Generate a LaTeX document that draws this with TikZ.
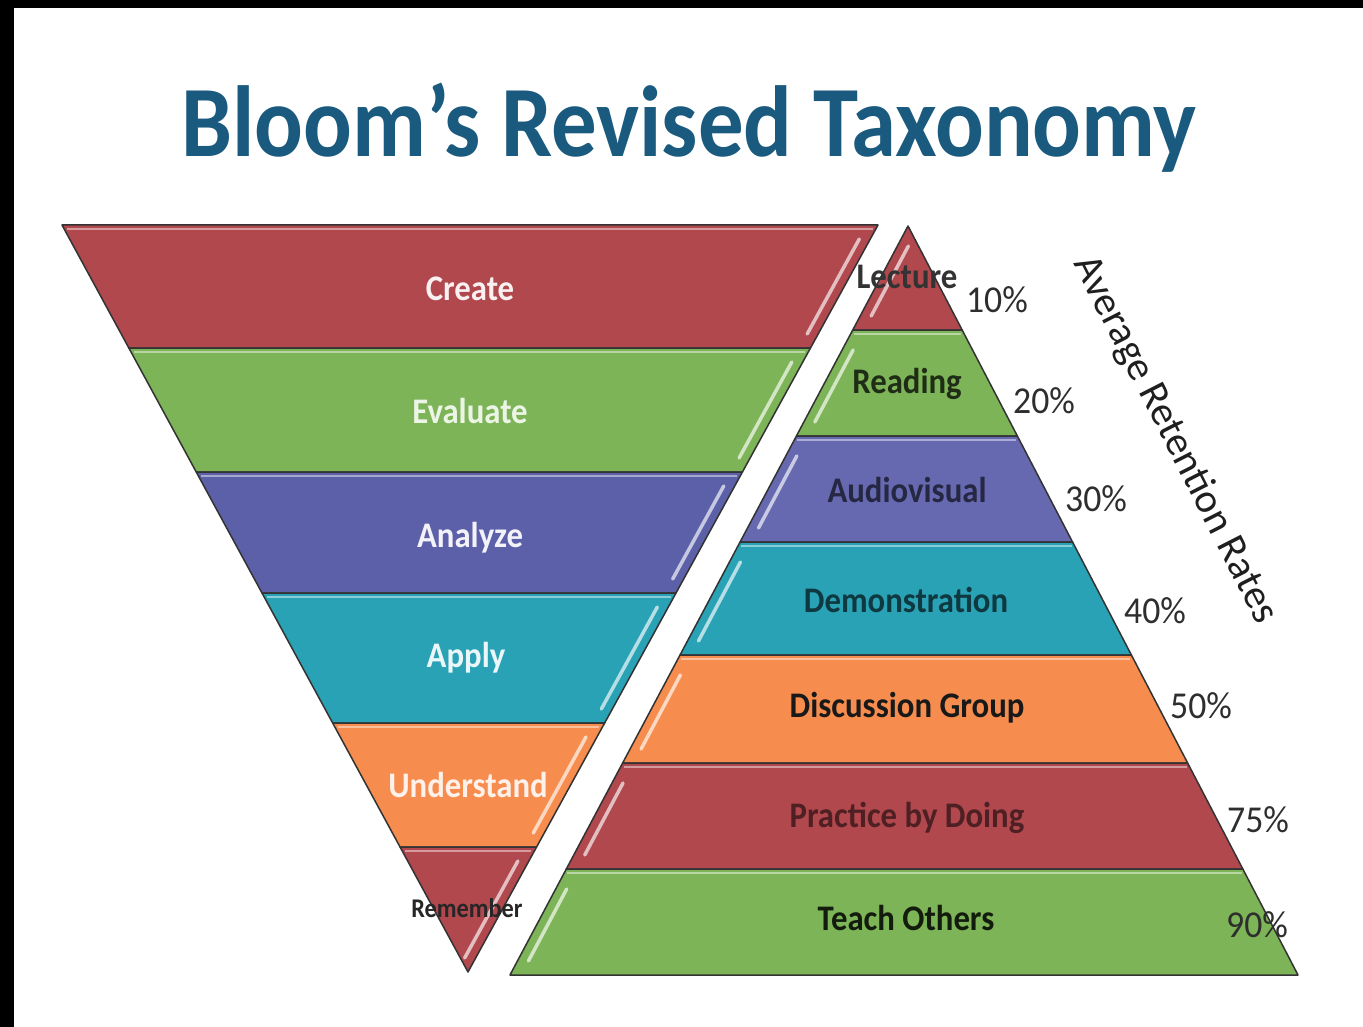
\documentclass[tikz,border=0pt]{standalone}
\usepackage{fontspec}
\setmainfont{Carlito}
\definecolor{bred}{HTML}{B0484E}
\definecolor{bgreen}{HTML}{7DB457}
\definecolor{bpurple}{HTML}{5C60A8}
\definecolor{bpurpleb}{HTML}{6669AF}
\definecolor{bteal}{HTML}{2AA2B6}
\definecolor{borange}{HTML}{F68D4E}
\definecolor{titleblue}{HTML}{1A5A7E}
\definecolor{edgec}{HTML}{333333}
\definecolor{pctgray}{HTML}{2E2E2E}
\newcommand\fs[1]{\fontsize{#1}{#1}\selectfont}
\newcommand\sq[1]{\scalebox{0.91}[1]{#1}}
\begin{document}
\begin{tikzpicture}[x=1pt,y=-1pt,
  band/.style={draw=edgec, line width=1.5pt, line join=round},
  shine/.style={line width=3.5pt, line cap=round},
  titletext/.style={anchor=base, text=titleblue, font=\fs{101}\bfseries, inner sep=0pt},
  lefttext/.style={anchor=base, font=\fs{36}\bfseries, inner sep=0pt},
  righttext/.style={anchor=base, font=\fs{36}\bfseries, inner sep=0pt},
  pcttext/.style={anchor=base, font=\fs{38}, text=pctgray, inner sep=0pt}]
\useasboundingbox (0,0) rectangle (1363,1027);
\fill[white] (0,0) rectangle (1363,1027);
\fill[black] (0,0) rectangle (14,1027);
\fill[black] (0,0) rectangle (1363,8);

% title
\node[titletext] (title) at (689,157) {\scalebox{0.9}[1]{Bloom's Revised Taxonomy}};

% left inverted triangle
\foreach \ya/\yb/\c in {225/348/bred, 348/472/bgreen, 472/593/bpurple, 593/723/bteal, 723/847/borange, 847/972/bred} {
  \filldraw[band, fill=\c] ({62+0.5435*(\ya-225)},\ya) -- ({878-0.5489*(\ya-225)},\ya) -- ({878-0.5489*(\yb-225)},\yb) -- ({62+0.5435*(\yb-225)},\yb) -- cycle;
  \draw[line width=2pt, \c!55!white] ({62+0.5435*(\ya+4-225)+3},{\ya+4}) -- ({878-0.5489*(\ya+4-225)-3},{\ya+4});
  \draw[shine, \c!35!white] ({878-0.5489*(\yb-14-225)-11},{\yb-14}) -- ({878-0.5489*(\ya+14-225)-11},{\ya+14});
}

% right pyramid
\foreach \ya/\yb/\c in {226/330/bred, 330/436/bgreen, 436/542/bpurpleb, 542/655/bteal, 655/763/borange, 763/869/bred, 869/975/bgreen} {
  \filldraw[band, fill=\c] ({908-0.5314*(\ya-226)},\ya) -- ({908+0.5207*(\ya-226)},\ya) -- ({908+0.5207*(\yb-226)},\yb) -- ({908-0.5314*(\yb-226)},\yb) -- cycle;
  \draw[shine, \c!35!white] ({908-0.5314*(\yb-14-226)+11},{\yb-14}) -- ({908-0.5314*(\ya+20-226)+11},{\ya+20});
}
\foreach \ya/\c in {330/bgreen, 436/bpurpleb, 542/bteal, 655/borange, 763/bred, 869/bgreen} {
  \draw[line width=2pt, \c!55!white] ({908-0.5314*(\ya+4-226)+3},{\ya+4}) -- ({908+0.5207*(\ya+4-226)-3},{\ya+4});
}

% left labels
\node[lefttext, text=bred!8!white] (create) at (470,300) {\sq{Create}};
\node[lefttext, text=bgreen!15!white] (evaluate) at (470,423) {\sq{Evaluate}};
\node[lefttext, text=bpurple!8!white] (analyze) at (470,547) {\sq{Analyze}};
\node[lefttext, text=bteal!10!white] (apply) at (466,667) {\sq{Apply}};
\node[lefttext, text=borange!12!white] (understand) at (468,797) {\sq{Understand}};
\node[anchor=base, font=\fs{27}\bfseries, text=black!85, inner sep=0pt] (remember) at (467,917) {\scalebox{0.9}[1]{Remember}};

% right labels
\node[righttext, text=black!80] (lecture) at (907,288) {\sq{Lecture}};
\node[righttext, text=bgreen!25!black] (reading) at (907,393) {\sq{Reading}};
\node[righttext, text=bpurple!40!black] (audio) at (907,502) {\sq{Audiovisual}};
\node[righttext, text=bteal!35!black] (demo) at (906,612) {\sq{Demonstration}};
\node[righttext, text=black!90] (discuss) at (907,717) {\sq{Discussion Group}};
\node[righttext, text=bred!45!black] (practice) at (907,827) {\sq{Practice by Doing}};
\node[righttext, text=bgreen!15!black] (teach) at (906,930) {\sq{Teach Others}};

% percentages
\node[pcttext] (p10) at (997,312) {\scalebox{0.94}[1]{10\%}};
\node[pcttext] (p20) at (1044,413) {\scalebox{0.94}[1]{20\%}};
\node[pcttext] (p30) at (1096,511) {\scalebox{0.94}[1]{30\%}};
\node[pcttext] (p40) at (1155,623) {\scalebox{0.94}[1]{40\%}};
\node[pcttext] (p50) at (1201,718) {\scalebox{0.94}[1]{50\%}};
\node[pcttext] (p75) at (1258,832) {\scalebox{0.94}[1]{75\%}};
\node[pcttext] (p90) at (1257,937) {\scalebox{0.94}[1]{90\%}};

% axis caption
\node[font=\fs{41}, text=black!88, rotate=-63, inner sep=0pt] (avg) at (1175,440) {Average Retention Rates};
\end{tikzpicture}
\end{document}
